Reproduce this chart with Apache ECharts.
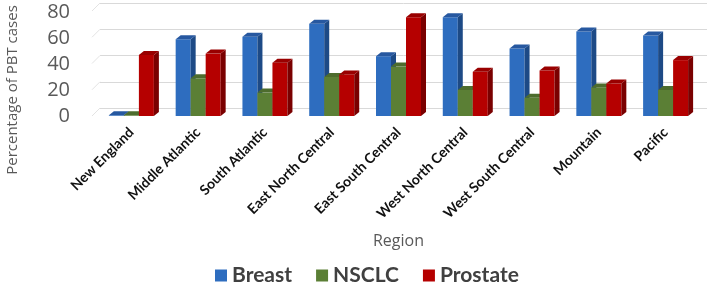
<html>
<meta charset="UTF-8">
<head>
<script src="https://cdn.jsdelivr.net/npm/echarts@6/dist/echarts.min.js"></script>
</head>
<body style="margin:0">
	<div id="barEcharts" style="height: 291px; width: 712px"></div>
</body>
<script>
	var regions = ['New England', 'Middle Atlantic', 'South Atlantic', 'East North Central',
		'East South Central', 'West North Central', 'West South Central', 'Mountain', 'Pacific'];
	var breast = [0.5, 59, 61, 71, 46, 76, 52, 65, 62];
	var nsclc = [0.5, 29, 18, 30, 38, 20, 14, 22, 20];
	var prostate = [47, 48, 41, 32, 76, 34, 35, 25, 43];
	var yTicks = [0, 20, 40, 60, 80];

	// 每个柱子画正面、侧面、顶面，做出立体效果
	function bar3d(offset, front, side, top) {
		return function(params, api) {
			var base = api.coord([api.value(0), 0]);
			var t = api.coord([api.value(0), api.value(1)]);
			var w = 15, dx = 5, dy = 4;
			var x = base[0] + offset;
			return {
				type : 'group',
				children : [ {
					type : 'rect',
					shape : { x : x, y : t[1], width : w, height : base[1] - t[1] },
					style : { fill : front }
				}, {
					type : 'polygon',
					shape : { points : [ [ x + w, t[1] ], [ x + w + dx, t[1] - dy ],
						[ x + w + dx, base[1] - dy ], [ x + w, base[1] ] ] },
					style : { fill : side }
				}, {
					type : 'polygon',
					shape : { points : [ [ x, t[1] ], [ x + dx, t[1] - dy ],
						[ x + w + dx, t[1] - dy ], [ x + w, t[1] ] ] },
					style : { fill : top }
				} ]
			};
		};
	}

	function toData(arr) {
		var out = [];
		for (var i = 0; i < arr.length; i++) {
			out.push([ i, arr[i] ]);
		}
		return out;
	}

	var barEcharts = echarts.init(document.getElementById('barEcharts'));
	var option = {
		animation : false,
		legend : {
			bottom : 0,
			left : 210,
			itemWidth : 12,
			itemHeight : 12,
			itemGap : 24,
			icon : 'rect',
			textStyle : {
				fontSize : 21,
				fontWeight : 'bold',
				color : '#404040',
				fontFamily : 'Lato'
			},
			data : [ 'Breast', 'NSCLC', 'Prostate' ]
		},
		grid : [ {
			left : 98, right : 13, top : 12, bottom : 175,
			containLabel : false, outerBoundsMode : 'none'
		}, {
			left : 100, right : 5, top : 3, bottom : 183,
			containLabel : false, outerBoundsMode : 'none'
		} ],
		xAxis : [ {
			type : 'category',
			gridIndex : 0,
			data : regions,
			axisLine : { show : false },
			axisTick : { show : false },
			axisLabel : {
				interval : 0,
				rotate : 45,
				margin : 14,
				fontSize : 14,
				fontWeight : 'bold',
				color : '#111',
				fontFamily : 'Lato'
			},
			name : 'Region',
			nameLocation : 'middle',
			nameGap : 117,
			nameTextStyle : { fontSize : 16, color : '#595959', fontFamily : 'Open Sans' }
		}, {
			type : 'category',
			gridIndex : 1,
			data : regions,
			show : false
		} ],
		yAxis : [ {
			type : 'value',
			gridIndex : 0,
			min : 0,
			max : 80,
			interval : 20,
			splitLine : { show : false },
			axisLine : { show : false },
			axisLabel : { fontSize : 20, color : '#595959', margin : 28, fontFamily : 'Open Sans',
				hideOverlap : false, showMinLabel : true, showMaxLabel : true },
			name : 'Percentage of PBT cases',
			nameLocation : 'middle',
			nameGap : 78,
			nameTextStyle : { fontSize : 15, color : '#595959', fontFamily : 'Open Sans',
				padding : [ 0, 52, 0, 0 ] }
		}, {
			type : 'value',
			gridIndex : 1,
			min : 0,
			max : 80,
			interval : 20,
			axisLabel : { show : false },
			axisLine : { show : false },
			splitLine : { lineStyle : { color : '#d9d9d9', width : 1 } }
		} ],
		series : [ {
			// 左侧墙的斜线
			type : 'custom',
			xAxisIndex : 1,
			yAxisIndex : 1,
			silent : true,
			data : toData(yTicks).map(function(d) { return [ 0, d[1] ]; }),
			renderItem : function(params, api) {
				var p = api.coord([ 0, api.value(1) ]);
				var x0 = params.coordSys.x;
				return {
					type : 'line',
					shape : { x1 : x0 - 8, y1 : p[1] + 8, x2 : x0, y2 : p[1] },
					style : { stroke : '#e3e3e3', lineWidth : 1 }
				};
			}
		}, {
			name : 'Breast',
			type : 'custom',
			itemStyle : { color : '#2e6dbf' },
			data : toData(breast),
			renderItem : bar3d(-22.5, '#2e6dbf', '#1d4a86', '#2758a0')
		}, {
			name : 'NSCLC',
			type : 'custom',
			itemStyle : { color : '#5b7f35' },
			data : toData(nsclc),
			renderItem : bar3d(-7.5, '#5b7f35', '#3f5a25', '#4d6c2d')
		}, {
			name : 'Prostate',
			type : 'custom',
			itemStyle : { color : '#b50000' },
			data : toData(prostate),
			renderItem : bar3d(7.5, '#b50000', '#7a0000', '#990000')
		} ]
	};
	barEcharts.setOption(option);
</script>
</html>
